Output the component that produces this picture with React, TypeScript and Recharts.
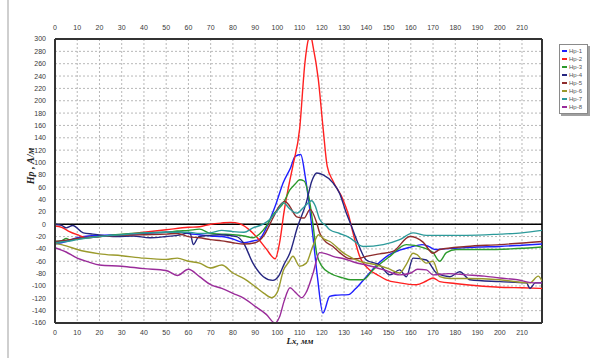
import { LineChart, Line, XAxis, YAxis, CartesianGrid, ReferenceLine } from 'recharts'

const X_TICKS = [0, 10, 20, 30, 40, 50, 60, 70, 80, 90, 100, 110, 120, 130, 140, 150, 160, 170, 180, 190, 200, 210]
const Y_TICKS = [-160, -140, -120, -100, -80, -60, -40, -20, 0, 20, 40, 60, 80, 100, 120, 140, 160, 180, 200, 220, 240, 260, 280, 300]
const X_MAX = 219

// [Lx, Hp] pairs
const hp1: [number, number][] = [
  [0, -32], [5, -28], [10, -22], [15, -19], [20, -18], [30, -17], [40, -15], [50, -13], [55, -12], [60, -15],
  [65, -17], [70, -19], [75, -20], [80, -24], [85, -30], [88, -28], [92, -24], [95, -6], [99, 29], [102.7, 68],
  [106, 92], [108, 110], [110.5, 113], [112.5, 78], [114, 40], [116, -20], [118, -85], [120.5, -144], [123.5, -117],
  [126, -115], [132, -114], [135, -105], [140, -85], [145, -65], [150, -50], [155, -42], [160, -37], [165, -33],
  [168, -36], [171, -41], [175, -40], [180, -39], [190, -37], [200, -36], [210, -34], [219, -32],
]
const hp2: [number, number][] = [
  [0, -3], [3, -5], [6, -11], [10, -17], [15, -22], [20, -20], [30, -17], [40, -13], [50, -9], [60, -5],
  [65, -4], [70, 0], [75, 2], [79, 3], [83, 1], [87, -8], [91, -22], [95, -40], [99, -56], [101, -30],
  [103, 20], [105, 60], [107, 95], [110, 154], [112.4, 262], [114, 300], [115, 305], [116, 289], [118.4, 235],
  [120.6, 154], [122.4, 94], [125, 70], [129.5, 40], [132, 15], [134, -14], [137, -52], [141.5, -74], [145, -82],
  [149, -90], [155, -95], [162.5, -98], [167, -92], [170, -87], [173, -93], [180, -96], [185, -98], [200, -102],
  [210, -103], [219, -104],
]
const hp3: [number, number][] = [
  [0, -28], [3, -27], [5, -23], [7, -26], [10, -24], [20, -20], [30, -16], [40, -14], [50, -13], [55, -11],
  [60, -10], [65, -8], [70, -15], [75, -16], [80, -17], [85, -19], [89, -22], [92, -16], [95, -3], [98, 15],
  [102.8, 35], [105.7, 56], [108, 65], [110, 72], [112, 70], [114.6, 35], [116, 0], [117.6, -46], [120, -68],
  [123.6, -79], [129.5, -87], [133, -90], [138.5, -90], [143, -74], [150.6, -52], [158, -33], [165.5, -38],
  [170, -46], [173, -60], [176, -46], [180.6, -41], [193, -41], [205, -40], [219, -37],
]
const hp4: [number, number][] = [
  [0, 0], [3, -2], [5, -6], [8, -2], [12.7, -14], [17, -16], [27.7, -20], [35, -19], [42.7, -22], [50, -20],
  [55, -18], [60.7, -14], [62.2, -33], [64.7, -20], [70, -18], [74, -17], [81.7, -20], [84.7, -30], [89, -63],
  [93.7, -85], [98, -91], [100.4, -85], [103, -65], [105.7, -46], [109, -5], [113, 35], [115.5, 70], [117.7, 83],
  [120.6, 80], [125, 67], [128, 50], [131, 18], [133, 0], [135.6, -25], [140, -58], [146, -66], [150.6, -82],
  [155, -74], [158, -85], [161, -55], [167, -58], [171.6, -79], [177.6, -85], [182, -77], [186.6, -90], [200, -93],
  [212, -95], [213.6, -104], [216, -95], [219, -95],
]
const hp5: [number, number][] = [
  [0, -28], [5, -26], [10, -23], [20, -20], [30, -18], [40, -17], [50, -16], [55, -15], [60, -20], [65, -22],
  [70, -25], [75, -27], [80, -30], [85, -32], [90, -30], [94, -18], [98, 10], [101, 30], [103.4, 37], [105, 32],
  [108.7, 12], [112, 10], [114.7, 24], [117.7, 2], [119, -14], [120.8, -25], [125, -36], [128, -46], [132.6, -56],
  [136, -56], [140, -52], [146, -48], [152, -44], [159.6, -20], [165.5, -29], [170, -47], [173, -41], [185, -36],
  [200, -33], [219, -28],
]
const hp6: [number, number][] = [
  [0, -31], [5, -35], [10, -41], [20, -48], [30, -51], [40, -55], [50, -57], [55, -55], [60, -60], [65, -63],
  [70, -71], [75, -66], [80, -79], [85, -88], [90, -101], [94, -112], [97.4, -119], [100, -110], [102.8, -74],
  [105, -62], [107, -52], [110, -68], [113, -63], [116, -35], [118.5, -17], [121, -24], [123.6, -28], [129.5, -46],
  [137, -60], [144.6, -66], [150, -72], [155, -79], [158, -65], [161, -47], [162.6, -49], [167, -63], [170, -60],
  [173, -85], [177.6, -88], [185, -88], [200, -90], [213.6, -95], [217.3, -84], [219, -92],
]
const hp7: [number, number][] = [
  [0, -30], [5, -28], [10, -25], [20, -20], [30, -17], [40, -14], [50, -13], [60, -13], [65, -15], [70, -14],
  [75, -10], [80, -12], [85, -13], [89, -6], [93.6, 0], [96.7, 8], [100, 22], [102.7, 35], [105.5, 25],
  [108.7, 18], [112, 28], [115.4, 38], [117, 30], [119, 8], [122, -3], [123.6, -9], [128, -15], [132.6, -22],
  [138.6, -36], [147.6, -33], [155, -25], [161, -14], [167, -18], [185, -18], [200, -16], [210, -14], [219, -10],
]
const hp8: [number, number][] = [
  [0, -38], [5, -45], [10, -55], [15, -61], [20, -66], [30, -68], [40, -72], [50, -75], [55, -83], [60, -73],
  [65, -85], [70, -98], [75, -104], [80, -112], [85, -120], [90, -133], [95, -146], [98.9, -160], [101, -150],
  [103, -125], [105.7, -103], [108, -110], [111, -119], [113, -110], [116, -80], [119, -46], [122, -48],
  [125, -52], [130, -56], [135, -62], [140, -66], [148, -74], [155, -82], [160, -79], [163, -73], [167, -74],
  [170, -82], [177, -80], [185, -82], [193, -84], [200, -87], [208, -90], [215, -95], [219, -95],
]

const SERIES = [
  { name: 'Нр-1', color: '#1f1fff', points: hp1 },
  { name: 'Нр-2', color: '#ff2020', points: hp2 },
  { name: 'Нр-3', color: '#2c9a2c', points: hp3 },
  { name: 'Нр-4', color: '#262680', points: hp4 },
  { name: 'Нр-5', color: '#8e2c2c', points: hp5 },
  { name: 'Нр-6', color: '#9a9a2c', points: hp6 },
  { name: 'Нр-7', color: '#2c9a9a', points: hp7 },
  { name: 'Нр-8', color: '#9a2c9a', points: hp8 },
]

const TICK_FONT = 'Arial, "Liberation Sans", sans-serif'
const tickStyle = { fill: '#3a3a3a', fontSize: 7, fontFamily: TICK_FONT }

// x ticks drawn by hand so the colour stays grey
function XTick({ x, y, payload, top }: any) {
  return (
    <text
      x={x}
      y={top ? y - 9 : y + 12}
      textAnchor="middle"
      fill="#3a3a3a"
      fontSize={7}
      fontFamily={TICK_FONT}
    >
      {payload.value}
    </text>
  )
}

function LegendBox() {
  return (
    <div
      style={{
        position: 'absolute',
        left: 559,
        top: 44,
        border: '1px solid #8a8a8a',
        boxShadow: '2px 2px 0 #a0a0a0',
        background: '#fff',
        padding: '2px 3px 2px 2px',
        width: 22,
      }}
    >
      {SERIES.map((s) => (
        <div key={s.name} style={{ display: 'flex', alignItems: 'center', height: 8 }}>
          <span style={{ display: 'inline-block', width: 5, height: 2, background: s.color, marginRight: 2 }} />
          <span style={{ fontSize: 6, color: '#555', fontFamily: 'Arial, sans-serif', lineHeight: '8px' }}>{s.name}</span>
        </div>
      ))}
    </div>
  )
}

export default function App() {
  return (
    <div style={{ position: 'fixed', left: 0, top: 0, width: 602, height: 358, background: '#fff', overflow: 'hidden' }}>
      <div style={{ position: 'absolute', left: 7, top: 0, width: 2, height: 358, background: '#cfcfcf' }} />
      <LineChart width={602} height={358} margin={{ top: 0, right: 60, bottom: 0, left: 0 }}>
        <CartesianGrid stroke="#b8b8b8" strokeDasharray="2 2" />
        <XAxis
          type="number"
          dataKey="x"
          domain={[0, X_MAX]}
          ticks={X_TICKS}
          interval={0}
          height={35}
          stroke="#333"
          tick={(p: any) => <XTick {...p} />}
          tickLine={false}
          tickSize={0}
          tickMargin={0}
          axisLine={{ stroke: '#333', strokeWidth: 2 }}
          allowDataOverflow
        />
        <XAxis
          xAxisId="top"
          orientation="top"
          type="number"
          dataKey="x"
          domain={[0, X_MAX]}
          ticks={X_TICKS}
          interval={0}
          height={39}
          stroke="#333"
          tick={(p: any) => <XTick {...p} top />}
          tickLine={false}
          tickSize={0}
          tickMargin={0}
          axisLine={{ stroke: '#333', strokeWidth: 2 }}
          allowDataOverflow
        />
        <YAxis
          type="number"
          domain={[-160, 300]}
          ticks={Y_TICKS}
          width={55}
          stroke="#333"
          tick={tickStyle}
          tickLine={false}
          tickMargin={3}
          interval={0}
          axisLine={{ stroke: '#333', strokeWidth: 2 }}
          allowDataOverflow
        />
        <ReferenceLine x={X_MAX} stroke="#333" strokeWidth={2} />
        <ReferenceLine y={0} stroke="#000" strokeWidth={1.5} />
        {SERIES.map((s) => (
          <Line
            key={s.name}
            name={s.name}
            data={s.points.map(([x, y]) => ({ x, y }))}
            dataKey="y"
            type="monotone"
            stroke={s.color}
            strokeWidth={1.4}
            dot={false}
            activeDot={false}
            isAnimationActive={false}
          />
        ))}
      </LineChart>
      <LegendBox />
      <div
        style={{
          position: 'absolute',
          left: 270,
          top: 336,
          width: 60,
          textAlign: 'center',
          fontFamily: '"Liberation Serif", "DejaVu Serif", serif',
          fontStyle: 'italic',
          fontWeight: 'bold',
          fontSize: 9,
          color: '#222',
        }}
      >
        Lх, мм
      </div>
      <div
        style={{
          position: 'absolute',
          left: 30,
          top: 166,
          transform: 'translate(-50%, -50%) rotate(-90deg)',
          whiteSpace: 'nowrap',
          fontFamily: '"Liberation Serif", "DejaVu Serif", serif',
          fontStyle: 'italic',
          fontWeight: 'bold',
          fontSize: 10,
          color: '#222',
        }}
      >
        Нр , А/м
      </div>
    </div>
  )
}
